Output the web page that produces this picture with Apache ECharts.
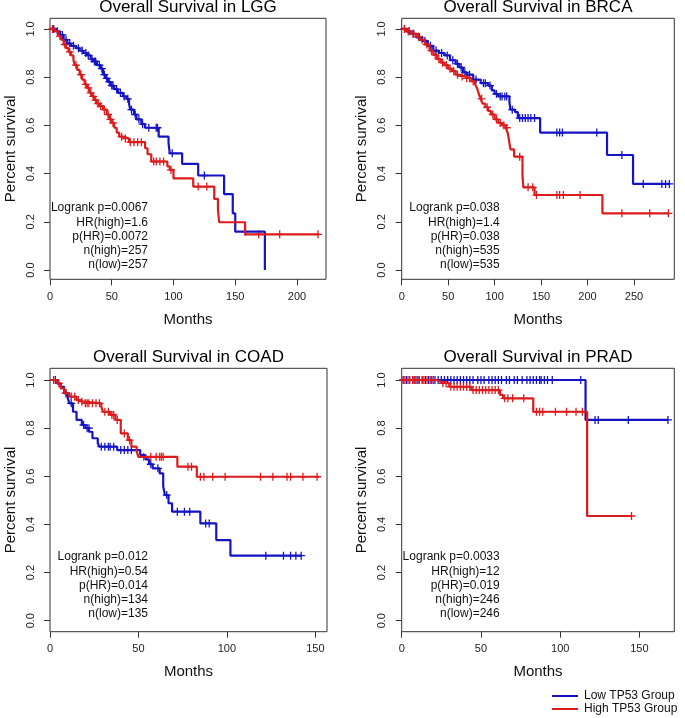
<!DOCTYPE html>
<html>
<head>
<meta charset="utf-8">
<script src="https://cdn.jsdelivr.net/npm/echarts@6/dist/echarts.min.js"></script>
<style>
html, body { margin: 0; padding: 0; background: #fff; }
#chart { width: 685px; height: 718px; }
</style>
</head>
<body>
<div id="chart"></div>
<script>
// KM curves: [months, survival], step drops at each point
var lggLow = [[0,1],[5,0.99],[8,0.975],[11,0.955],[14,0.94],[17,0.93],[21,0.92],[24,0.91],[27,0.9],[30,0.89],[33,0.875],[35,0.865],[38,0.85],[41,0.835],[43,0.81],[45,0.795],[47,0.78],[49,0.765],[52,0.75],[55,0.735],[59,0.72],[62,0.71],[64,0.69],[65,0.665],[68,0.645],[70,0.625],[74,0.605],[77,0.59],[88,0.553],[96,0.525],[97,0.484],[107,0.44],[120,0.392],[141,0.315],[148,0.235],[150,0.159],[174,0]];
var lggLowCensor = [[3,1],[6,0.99],[10,0.975],[13,0.955],[16,0.94],[19,0.93],[23,0.92],[26,0.91],[29,0.9],[31,0.89],[34,0.875],[36,0.865],[37,0.865],[40,0.85],[42,0.835],[44,0.81],[46,0.795],[48,0.78],[50,0.765],[51,0.765],[54,0.75],[57,0.735],[60,0.72],[63,0.71],[66,0.665],[69,0.645],[72,0.625],[75,0.605],[80,0.59],[86,0.59],[87,0.59],[99,0.484],[125,0.392],[158,0.159]];
var lggHigh = [[0,1],[4,0.99],[7,0.97],[9,0.955],[11,0.935],[13,0.92],[15,0.905],[17,0.89],[19,0.87],[20,0.85],[22,0.83],[24,0.81],[26,0.79],[28,0.77],[30,0.755],[32,0.735],[34,0.72],[36,0.705],[38,0.69],[40,0.68],[43,0.665],[46,0.645],[48,0.625],[50,0.61],[52,0.59],[54,0.57],[56,0.553],[60,0.545],[64,0.53],[77,0.505],[79,0.48],[82,0.45],[95,0.43],[97,0.415],[100,0.38],[116,0.346],[133,0.295],[136,0.25],[137,0.198],[158,0.148],[218,0.148]];
var lggHighCensor = [[2,1],[8,0.97],[12,0.935],[16,0.905],[21,0.85],[25,0.81],[29,0.77],[31,0.755],[33,0.735],[35,0.72],[37,0.705],[39,0.69],[41,0.68],[44,0.665],[47,0.645],[49,0.625],[51,0.61],[58,0.553],[61,0.545],[65,0.53],[68,0.53],[71,0.53],[74,0.53],[84,0.45],[86,0.45],[89,0.45],[92,0.45],[98,0.415],[120,0.346],[127,0.346],[169,0.148],[186,0.148],[217,0.148]];

var brcaLow = [[0,1],[5,0.99],[10,0.98],[16,0.965],[22,0.95],[28,0.93],[34,0.91],[40,0.9],[46,0.89],[52,0.87],[58,0.855],[62,0.84],[66,0.82],[70,0.81],[77,0.79],[85,0.775],[93,0.765],[97,0.745],[100,0.73],[104,0.72],[116,0.695],[117,0.665],[122,0.655],[125,0.63],[149,0.57],[221,0.477],[249,0.357],[289,0.357]];
var brcaLowCensor = [[3,1],[8,0.99],[13,0.98],[19,0.965],[25,0.95],[31,0.93],[37,0.91],[43,0.9],[49,0.89],[55,0.87],[60,0.855],[64,0.84],[68,0.82],[73,0.81],[80,0.79],[88,0.775],[90,0.775],[95,0.765],[102,0.73],[106,0.72],[108,0.72],[111,0.72],[113,0.72],[119,0.665],[127,0.63],[130,0.63],[133,0.63],[136,0.63],[139,0.63],[143,0.63],[167,0.57],[170,0.57],[173,0.57],[210,0.57],[237,0.477],[260,0.357],[280,0.357],[284,0.357],[288,0.357]];
var brcaHigh = [[0,1],[5,0.99],[10,0.98],[16,0.968],[20,0.955],[25,0.935],[30,0.91],[34,0.892],[38,0.875],[42,0.86],[46,0.85],[50,0.835],[54,0.825],[58,0.81],[62,0.803],[68,0.795],[75,0.782],[79,0.77],[81,0.755],[83,0.73],[85,0.71],[87,0.69],[90,0.675],[93,0.66],[96,0.645],[100,0.625],[104,0.61],[108,0.6],[112,0.59],[114,0.57],[115,0.55],[117,0.5],[121,0.47],[130,0.39],[131,0.343],[143,0.311],[216,0.235],[287,0.235]];
var brcaHighCensor = [[3,1],[7,0.99],[12,0.98],[18,0.968],[22,0.955],[27,0.935],[32,0.91],[36,0.892],[40,0.875],[44,0.86],[48,0.85],[52,0.835],[56,0.825],[60,0.81],[65,0.803],[70,0.795],[73,0.795],[77,0.782],[86,0.71],[92,0.675],[98,0.645],[102,0.625],[106,0.61],[110,0.6],[113,0.59],[127,0.47],[136,0.343],[141,0.343],[145,0.311],[167,0.311],[170,0.311],[174,0.311],[192,0.311],[237,0.235],[267,0.235],[287,0.235]];

var coadLow = [[0,1],[4,0.986],[6,0.972],[8,0.945],[10,0.925],[11,0.903],[13,0.868],[15,0.834],[18,0.813],[20,0.8],[22,0.785],[24,0.758],[27,0.737],[28,0.723],[38,0.709],[51,0.688],[54,0.67],[56,0.65],[58,0.633],[62,0.612],[64,0.557],[65,0.522],[67,0.488],[69,0.453],[85,0.404],[94,0.335],[102,0.27],[142,0.27]];
var coadLowCensor = [[3,1],[9,0.945],[12,0.903],[19,0.813],[21,0.8],[22,0.8],[29,0.723],[31,0.723],[33,0.723],[34,0.723],[36,0.723],[40,0.709],[42,0.709],[44,0.709],[46,0.709],[57,0.65],[61,0.633],[66,0.522],[72,0.453],[76,0.453],[79,0.453],[88,0.404],[90,0.404],[122,0.27],[132,0.27],[136,0.27],[139,0.27],[142,0.27]];
var coadHigh = [[0,1],[4,0.986],[6,0.965],[8,0.945],[11,0.931],[15,0.917],[17,0.91],[19,0.903],[29,0.889],[30,0.868],[34,0.855],[37,0.834],[40,0.778],[44,0.75],[46,0.723],[49,0.702],[50,0.681],[72,0.64],[83,0.598],[152,0.598]];
var coadHighCensor = [[2,1],[5,0.986],[9,0.945],[12,0.931],[14,0.931],[16,0.917],[18,0.91],[20,0.903],[21,0.903],[22,0.903],[24,0.903],[26,0.903],[28,0.903],[31,0.868],[33,0.868],[35,0.855],[36,0.855],[38,0.834],[42,0.778],[45,0.75],[53,0.681],[57,0.681],[60,0.681],[62,0.681],[63,0.681],[64,0.681],[78,0.64],[80,0.64],[85,0.598],[87,0.598],[92,0.598],[99,0.598],[119,0.598],[126,0.598],[134,0.598],[136,0.598],[143,0.598],[151,0.598]];

var pradLow = [[0,1],[116,0.834],[168,0.834]];
var pradLowCensor = [[1,1],[3,1],[5,1],[7,1],[9,1],[11,1],[13,1],[15,1],[17,1],[19,1],[21,1],[23,1],[25,1],[27,1],[29,1],[31,1],[33,1],[35,1],[37,1],[39,1],[41,1],[43,1],[45,1],[48,1],[50,1],[52,1],[55,1],[57,1],[59,1],[61,1],[63,1],[66,1],[68,1],[71,1],[73,1],[76,1],[79,1],[81,1],[83,1],[85,1],[87,1],[88,1],[90,1],[92,1],[95,1],[113,1],[122,0.834],[124,0.834],[143,0.834],[168,0.834]];
var pradHigh = [[0,1],[22,0.993],[25,0.986],[30,0.972],[44,0.958],[62,0.938],[64,0.924],[83,0.868],[117,0.435],[145,0.435]];
var pradHighCensor = [[1,1],[2,1],[4,1],[5,1],[7,1],[8,1],[10,1],[11,1],[13,1],[14,1],[16,1],[18,1],[20,1],[26,0.986],[28,0.986],[31,0.972],[33,0.972],[35,0.972],[37,0.972],[39,0.972],[41,0.972],[43,0.972],[45,0.958],[47,0.958],[49,0.958],[51,0.958],[53,0.958],[55,0.958],[57,0.958],[59,0.958],[61,0.958],[65,0.924],[67,0.924],[70,0.924],[77,0.924],[85,0.868],[87,0.868],[89,0.868],[97,0.868],[104,0.868],[110,0.868],[114,0.868],[145,0.435]];

var panelTitles = ['Overall Survival in LGG', 'Overall Survival in BRCA', 'Overall Survival in COAD', 'Overall Survival in PRAD'];
var panelStats = [
	['Logrank p=0.0067', 'HR(high)=1.6', 'p(HR)=0.0072', 'n(high)=257', 'n(low)=257'],
	['Logrank p=0.038', 'HR(high)=1.4', 'p(HR)=0.038', 'n(high)=535', 'n(low)=535'],
	['Logrank p=0.012', 'HR(high)=0.54', 'p(HR)=0.014', 'n(high)=134', 'n(low)=135'],
	['Logrank p=0.0033', 'HR(high)=12', 'p(HR)=0.019', 'n(high)=246', 'n(low)=246']
];
var xTicks = [[0,50,100,150,200], [0,50,100,150,200,250], [0,50,100,150], [0,50,100,150]];
var yTicks = [0, 0.2, 0.4, 0.6, 0.8, 1.0];
var xMax = [223.5, 293.4, 156.6, 172];

var FONT = 'Liberation Sans, Arial, sans-serif';
var BLUE = '#1414c4';
var RED = '#dc1c1c';
var PLUS = 'path://M4.2,0H5.8V4.2H10V5.8H5.8V10H4.2V5.8H0V4.2H4.2Z';

// grid boxes [left, top, width, height]
var boxes = [[50, 18.3, 276, 261], [401.7, 18.3, 272.6, 261], [50, 368.3, 277, 263.4], [401.7, 368.3, 272.6, 263.4]];
var yRange = [[-0.0386, 1.044], [-0.0386, 1.044], [-0.0457, 1.0486], [-0.0457, 1.0486]];
var curves = [[lggLow, lggHigh, lggLowCensor, lggHighCensor], [brcaLow, brcaHigh, brcaLowCensor, brcaHighCensor],
	[coadLow, coadHigh, coadLowCensor, coadHighCensor], [pradLow, pradHigh, pradLowCensor, pradHighCensor]];

var grids = [], xAxes = [], yAxes = [], series = [], graphics = [];

boxes.forEach(function(b, i) {
	grids.push({
		left : b[0], top : b[1], width : b[2], height : b[3],
		show : true, borderColor : '#333', borderWidth : 1, backgroundColor : '#fff'
	});
	xAxes.push({
		type : 'value', gridIndex : i, min : 0, max : xMax[i],
		name : 'Months', nameLocation : 'middle', nameGap : 33,
		nameTextStyle : { fontSize : 15, color : '#111', fontFamily : FONT },
		axisLine : { show : false, onZero : false },
		axisTick : { show : true, inside : false, length : 6, customValues : xTicks[i], lineStyle : { color : '#333' } },
		axisLabel : { customValues : xTicks[i], fontSize : 11, color : '#222', margin : 12, fontFamily : FONT },
		splitLine : { show : false }
	});
	yAxes.push({
		type : 'value', gridIndex : i, min : yRange[i][0], max : yRange[i][1],
		name : 'Percent survival', nameLocation : 'middle', nameGap : 32,
		nameTextStyle : { fontSize : 15, color : '#111', fontFamily : FONT },
		axisLine : { show : false, onZero : false },
		axisTick : { show : true, inside : false, length : 6, customValues : yTicks, lineStyle : { color : '#333' } },
		axisLabel : {
			customValues : yTicks, rotate : 90, fontSize : 11, color : '#222', margin : 14, fontFamily : FONT,
			formatter : function(v) { return v.toFixed(1); }
		},
		splitLine : { show : false }
	});
	var c = curves[i];
	series.push({
		name : 'Low TP53 Group', type : 'line', step : 'end', xAxisIndex : i, yAxisIndex : i,
		data : c[0], symbol : 'none', lineStyle : { color : BLUE, width : 2.2 }, itemStyle : { color : BLUE }
	});
	series.push({
		name : 'High TP53 Group', type : 'line', step : 'end', xAxisIndex : i, yAxisIndex : i,
		data : c[1], symbol : 'none', lineStyle : { color : RED, width : 2.2 }, itemStyle : { color : RED }
	});
	series.push({
		name : 'low censored', type : 'scatter', xAxisIndex : i, yAxisIndex : i,
		data : c[2], symbol : PLUS, symbolSize : 8, itemStyle : { color : BLUE, opacity : 1 }
	});
	series.push({
		name : 'high censored', type : 'scatter', xAxisIndex : i, yAxisIndex : i,
		data : c[3], symbol : PLUS, symbolSize : 8, itemStyle : { color : RED, opacity : 1 }
	});
	// panel title
	graphics.push({
		type : 'text', x : b[0] + b[2] / 2, y : b[1] - 10.5,
		style : { text : panelTitles[i], fill : '#000', font : '17px ' + FONT, textAlign : 'center', textVerticalAlign : 'middle' }
	});
	// stats block, right aligned
	var statTop = i < 2 ? 201 : 550;
	graphics.push({
		type : 'text', x : b[0] + 98, y : statTop,
		style : { text : panelStats[i].join('\n'), fill : '#111', font : '12px ' + FONT, textAlign : 'right', lineHeight : 14.2 }
	});
});

var chart = echarts.init(document.getElementById('chart'));
chart.setOption({
	animation : false,
	textStyle : { fontFamily : FONT },
	grid : grids,
	xAxis : xAxes,
	yAxis : yAxes,
	legend : {
		data : ['Low TP53 Group', 'High TP53 Group'],
		orient : 'vertical', left : 552, top : 689.5, padding : 0, itemGap : 0, height : 28,
		icon : 'rect', itemWidth : 26, itemHeight : 2,
		textStyle : { fontSize : 12, color : '#111', lineHeight : 13, padding : [0, 0, 0, 1] },
		selectedMode : false
	},
	graphic : graphics,
	series : series
});
</script>
</body>
</html>
